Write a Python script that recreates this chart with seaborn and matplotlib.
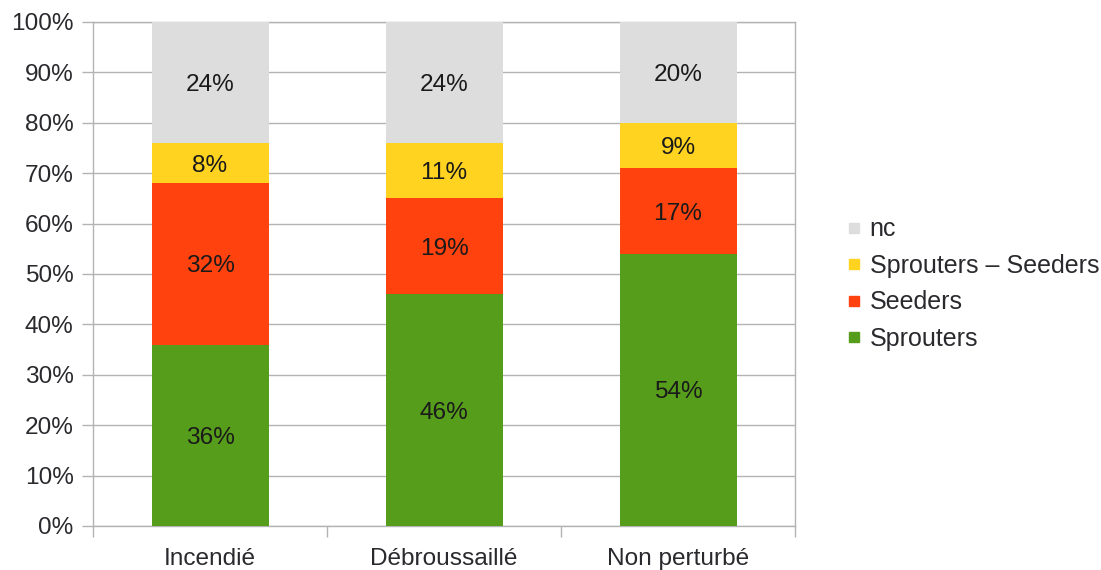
import matplotlib
matplotlib.use("Agg")
import matplotlib.pyplot as plt
from matplotlib.lines import Line2D
import numpy as np
import pandas as pd
import seaborn as sns

# Site categories and share of each regeneration strategy (%)
categories = ["Incendié", "Débroussaillé", "Non perturbé"]
sprouters = [36, 46, 54]
seeders = [32, 19, 17]
sprouters_seeders = [8, 11, 9]
nc = [24, 24, 20]

series_names = ["Sprouters", "Seeders", "Sprouters – Seeders", "nc"]
series_values = [sprouters, seeders, sprouters_seeders, nc]
series_colors = ["#579d1c", "#ff420e", "#ffd320", "#dddddd"]
y_ticks = list(range(0, 101, 10))
y_tick_labels = [f"{v}%" for v in y_ticks]

sns.set_theme(style="white")
plt.rcParams["font.family"] = ["Liberation Sans", "DejaVu Sans"]

fig = plt.figure(figsize=(11.01, 5.70), dpi=100)
ax = fig.add_axes([93 / 1101, 1 - 526 / 570, (795 - 93) / 1101, (526 - 22) / 570])

grid_color = "#b3b3b3"
text_color = "#2a2a2e"
fs = 17.6

# Stacked bars: draw cumulative totals from the top layer down
values = np.array(series_values, dtype=float)
cum = np.cumsum(values, axis=0)
for i in range(len(series_names) - 1, -1, -1):
    df = pd.DataFrame({"cat": categories, "top": cum[i]})
    sns.barplot(data=df, x="cat", y="top", color=series_colors[i],
                saturation=1, width=0.5, ax=ax, zorder=3, linewidth=0)

# Segment value labels
for i in range(len(series_names)):
    for j in range(len(categories)):
        mid = cum[i, j] - values[i, j] / 2
        ax.text(j, mid, f"{values[i, j]:.0f}%", ha="center",
                va="center_baseline", fontsize=fs, color="#1a1a1a", zorder=4)

ax.set_xlim(-0.5, len(categories) - 0.5)
ax.set_ylim(0, 100)
ax.set_yticks(y_ticks)
ax.set_yticklabels(y_tick_labels, va="center_baseline")
ax.set_xlabel("")
ax.set_ylabel("")

ax.yaxis.grid(True, color=grid_color, linewidth=1, zorder=0)
ax.set_axisbelow(True)
for s in ax.spines.values():
    s.set_visible(True)
    s.set_color(grid_color)
    s.set_linewidth(1)

ax.tick_params(axis="y", which="major", left=True, length=8, width=1,
               color=grid_color, labelsize=fs, labelcolor=text_color, pad=6)
ax.tick_params(axis="x", which="major", bottom=False, labelsize=fs,
               labelcolor=text_color, pad=10)
ax.set_xticks(np.arange(-0.5, len(categories), 1.0), minor=True)
ax.tick_params(axis="x", which="minor", bottom=True, length=8, width=1,
               color=grid_color)

handles = [Line2D([0], [0], marker="s", linestyle="none", markersize=7.5,
                  markerfacecolor=c, markeredgecolor=c)
           for c in series_colors]
leg = fig.legend(handles[::-1], series_names[::-1], loc="center left",
                 bbox_to_anchor=(836 / 1101, 1 - 284 / 570), frameon=False,
                 fontsize=18, handlelength=0.6, handletextpad=0.35,
                 labelspacing=0.5, borderaxespad=0)
for t in leg.get_texts():
    t.set_color(text_color)

fig.savefig("out.png", dpi=100)
